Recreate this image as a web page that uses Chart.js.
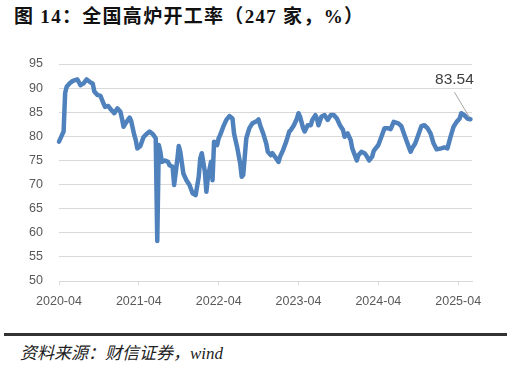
<!DOCTYPE html>
<html>
<head>
<meta charset="utf-8">
<script src="https://cdn.jsdelivr.net/npm/chart.js@4.4.1/dist/chart.umd.min.js"></script>
<style>
  html, body { margin: 0; padding: 0; background: #fff; }
  body { width: 511px; height: 367px; position: relative; overflow: hidden; }
  #title { position: absolute; left: 14px; top: 1px; font-family: "Liberation Serif", "Noto Sans CJK SC", serif; font-weight: bold; font-size: 19px; letter-spacing: 1.3px; color: #111; white-space: nowrap; }
  #wrap { position: absolute; left: 0; top: 40px; width: 511px; height: 280px; }
  #rule { position: absolute; left: 4px; width: 503px; top: 333px; height: 3px; background: #333; }
  #source { position: absolute; left: 20px; top: 339px; font-family: "Liberation Serif", "Noto Sans CJK SC", serif; font-style: italic; font-size: 17px; color: #222; white-space: nowrap; }
</style>
</head>
<body>
<div id="title">图 14：全国高炉开工率（247 家，%）</div>
<div id="wrap"><canvas id="c" width="511" height="280"></canvas></div>
<div id="rule"></div>
<div id="source">资料来源：财信证券，wind</div>
<script>
// weeks since 2020-04 (first week)
const weeks = [0,2,3,4,5,7,9,12,14,16,18,20,22,23,25,27,29,30,32,34,36,38,40,41,42,44,46,47,49,50,51,53,55,57,59,61,63,64,65,66,67,69,71,72,74,75,77,78,79,81,83,85,87,89,91,92,93,95,96,97,99,100,101,103,104,105,107,109,111,113,114,116,118,119,120,121,122,124,126,129,130,131,133,135,136,138,139,141,143,144,146,148,150,151,153,155,156,157,159,160,162,164,165,167,168,169,171,173,175,177,179,181,183,185,186,188,190,191,194,195,197,199,200,202,204,205,208,210,212,214,216,218,221,223,225,227,229,230,232,234,236,238,240,242,244,246,249,251,253,255,257,259,261,262,264,266,268];
const rates = [78.9,80.3,81.0,89.0,90.3,91.0,91.5,91.8,90.6,91.0,91.8,91.3,90.9,89.3,88.6,88.4,86.8,86.1,86.3,85.5,84.8,85.8,85.1,83.7,82.0,83.0,83.9,83.2,80.3,79.2,77.5,78.0,79.8,80.5,81.0,80.5,79.6,58.3,78.2,76.8,74.7,75.0,74.7,74.0,73.7,69.9,75.0,78.0,76.8,72.3,70.9,69.9,68.2,67.8,71.6,75.4,76.5,72.7,68.5,71.6,74.7,70.9,78.9,78.2,79.6,80.3,82.0,83.4,84.2,83.7,80.6,77.8,74.4,71.6,72.0,75.8,79.6,81.7,82.7,83.2,83.5,82.3,80.6,78.5,76.8,76.1,76.5,75.6,74.7,75.8,77.2,78.9,81.0,81.3,82.3,83.7,84.8,84.1,81.7,81.0,82.3,82.3,83.4,84.4,83.7,82.3,84.1,84.4,83.4,84.4,84.4,83.7,82.3,81.3,79.9,80.6,79.2,77.5,75.0,76.1,76.8,76.5,76.1,75.0,75.8,77.0,78.2,79.9,81.7,81.7,81.5,83.0,82.7,82.1,80.3,78.5,76.8,77.5,78.5,80.3,82.1,82.3,81.7,80.6,78.5,77.3,77.5,77.7,77.5,79.9,82.0,83.0,83.7,84.8,84.4,83.7,83.54];
const tickWeeks = [0,52,104,156,208,260];
const tickLabels = ['2020-04','2021-04','2022-04','2023-04','2024-04','2025-04'];
const yTicks = [50,55,60,65,70,75,80,85,90,95];

const points = weeks.map((w, i) => ({ x: w, y: rates[i] }));

const lastLabel = {
  id: 'lastLabel',
  afterDatasetsDraw(chart) {
    const meta = chart.getDatasetMeta(0);
    const p = meta.data[meta.data.length - 1];
    const ctx = chart.ctx;
    ctx.save();
    ctx.strokeStyle = '#a6a6a6';
    ctx.lineWidth = 1;
    ctx.beginPath();
    ctx.moveTo(p.x - 16, p.y - 27);
    ctx.lineTo(p.x - 1, p.y - 2);
    ctx.stroke();
    ctx.fillStyle = '#404040';
    ctx.font = '15.5px "Liberation Sans", Arial, sans-serif';
    ctx.textAlign = 'center';
    ctx.textBaseline = 'middle';
    ctx.fillText(rates[rates.length - 1].toFixed(2), p.x - 16, p.y - 40);
    ctx.restore();
  }
};

new Chart(document.getElementById('c'), {
  type: 'line',
  data: {
    datasets: [{
      data: points,
      borderColor: '#4f81bd',
      borderWidth: 4.5,
      pointRadius: 0,
      tension: 0,
      borderJoinStyle: 'round',
      borderCapStyle: 'round',
      clip: false
    }]
  },
  options: {
    responsive: false,
    animation: false,
    layout: { padding: { left: 0, right: 39, top: 24, bottom: 0 } },
    plugins: { legend: { display: false }, tooltip: { enabled: false } },
    scales: {
      x: {
        type: 'linear',
        min: 0,
        max: 269,
        afterBuildTicks(scale) { scale.ticks = tickWeeks.map(v => ({ value: v })); },
        afterFit(scale) { scale.height = 39; },
        ticks: {
          autoSkip: false,
          maxRotation: 0,
          padding: 9,
          color: '#595959',
          font: { family: '"Liberation Sans", Arial, sans-serif', size: 12.5 },
          callback(v) { const i = tickWeeks.indexOf(v); return i >= 0 ? tickLabels[i] : ''; }
        },
        grid: { drawOnChartArea: false, drawTicks: true, tickLength: 4, color: '#d9d9d9' },
        border: { display: true, color: '#d9d9d9' }
      },
      y: {
        min: 50,
        max: 95,
        afterBuildTicks(scale) { scale.ticks = yTicks.map(v => ({ value: v })); },
        afterFit(scale) { scale.width = 59; },
        ticks: {
          padding: 16,
          color: '#595959',
          font: { family: '"Liberation Sans", Arial, sans-serif', size: 12.5 }
        },
        grid: { color: '#d9d9d9', lineWidth: 1, drawTicks: false },
        border: { display: false }
      }
    }
  },
  plugins: [lastLabel]
});
</script>
</body>
</html>
